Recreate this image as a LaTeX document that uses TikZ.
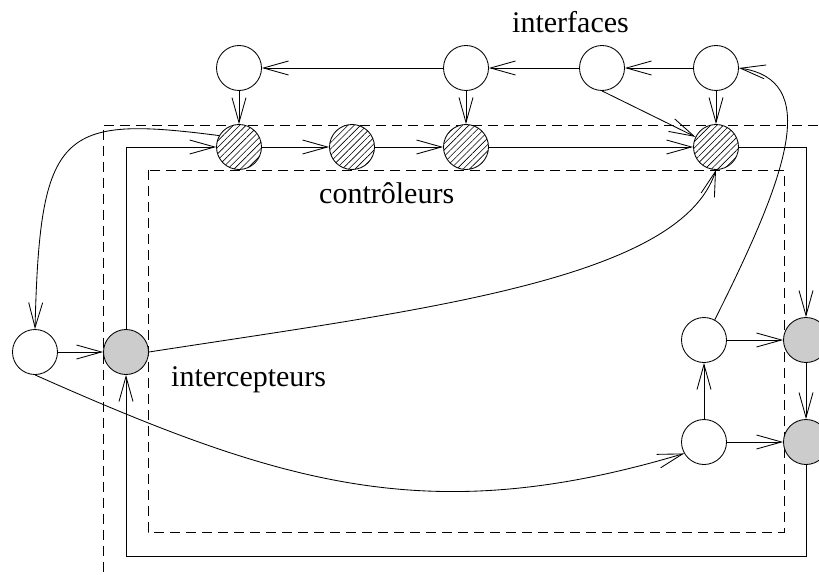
\documentclass[tikz,border=0pt]{standalone}
\usepackage{fontspec}
\setmainfont{Liberation Serif}
\usetikzlibrary{arrows.meta,patterns.meta,backgrounds}
\begin{document}
\begin{tikzpicture}[x=1pt,y=-1pt,
  base/.style={circle,draw,line width=0.85pt,minimum size=45pt,inner sep=0pt},
  nd/.style={base,fill=white},
  ctl/.style={base,preaction={fill=white},pattern={Lines[angle=45,distance=4.5pt,line width=0.6pt]}},
  icp/.style={base,fill=black!20},
  arr/.style={line width=0.85pt,-{Straight Barb[length=25pt,width=14pt,line width=0.85pt]}},
  dsh/.style={line width=0.95pt,dash pattern=on 10pt off 6pt},
  lbl/.style={font=\fontsize{30}{36}\selectfont,inner sep=0pt,anchor=base west}]
\useasboundingbox (0,0) rectangle (819,575);
% nodes
\node[nd] (I1) at (239,68) {};
\node[nd] (I2) at (466,68) {};
\node[nd] (I3) at (602,68) {};
\node[nd] (I4) at (716,68) {};
\node[ctl] (C1) at (239,147) {};
\node[ctl] (C2) at (352,147) {};
\node[ctl] (C3) at (466,147) {};
\node[ctl] (C4) at (716,147) {};
\node[nd] (L) at (35,352) {};
\node[icp] (G1) at (126,352) {};
\node[nd] (R1) at (704,340) {};
\node[nd] (R2) at (704,442) {};
\node[icp] (G2) at (806,340) {};
\node[icp] (G3) at (806,442) {};
% labels
\node[lbl] (tI) at (512,33) {interfaces};
\node[lbl] (tC) at (319,203) {contrôleurs};
\node[lbl] (tP) at (171,386) {intercepteurs};
% dashed frames
\begin{scope}[on background layer]
\coordinate (d1) at (103,572);
\coordinate (d2) at (103,125);
\coordinate (d3) at (830,125);
\draw[dsh] (d1) -- (d2) -- (d3);
\coordinate (e1) at (148,170);
\coordinate (e2) at (784,532);
\draw[dsh] (e1) rectangle (e2);
\end{scope}
% interface row
\draw[arr] (I2) -- (I1);
\draw[arr] (I3) -- (I2);
\draw[arr] (I4) -- (I3);
\draw[arr] (I1) -- (C1);
\draw[arr] (I2) -- (C3);
\draw[arr] (I4) -- (C4);
\draw[arr] (I3.south) -- (C4);
% controller row
\draw[arr] (C1) -- (C2);
\draw[arr] (C2) -- (C3);
\draw[arr] (C3) -- (C4);
% curves
\draw[arr] (C1.150) .. controls (60,115) and (40,130) .. (L.north);
\draw[arr] (G1.east) .. controls (420,310) and (680,280) .. (C4.south);
\draw[arr] (L.south) .. controls (285,486) and (431,529) .. (R2.210);
\draw[arr] (R1.62) .. controls (790,170) and (820,80) .. (I4.east);
% small edges
\draw[arr] (L) -- (G1);
\draw[arr] (R2) -- (R1);
\draw[arr] (R1) -- (G2);
\draw[arr] (R2) -- (G3);
\draw[arr] (G2) -- (G3);
% loop
\coordinate (bl) at (126,556);
\draw[arr] (C4.east) -| (G2.north);
\draw[arr] (G3.south) |- (bl) -- (G1.south);
\draw[arr] (G1.north) |- (C1.west);
\end{tikzpicture}
\end{document}
